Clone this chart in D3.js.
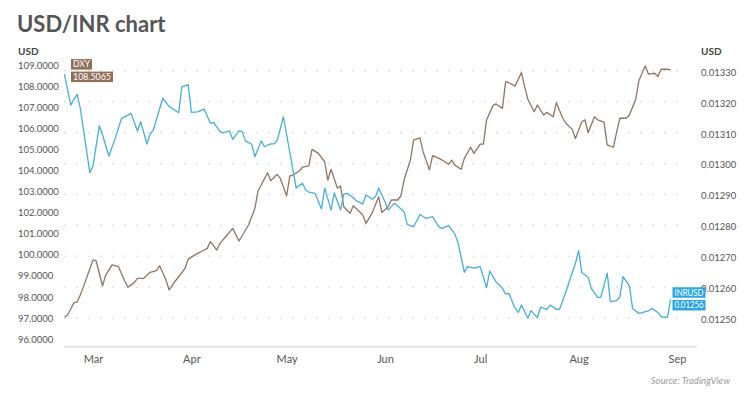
<!DOCTYPE html>
<html>
<head>
<meta charset="utf-8">
<script src="https://cdn.jsdelivr.net/npm/d3@7"></script>
<style>
  body { margin: 0; background: #fff; }
  text { font-family: Lato, "Open Sans", sans-serif; }
</style>
</head>
<body>
<div id="chart"></div>
<script>
// DXY (left axis) and INRUSD (right axis)
const dxyDates = ["2022-02-20","2022-02-21","2022-02-23","2022-02-24","2022-02-25","2022-02-26","2022-03-01","2022-03-02","2022-03-04","2022-03-05",
  "2022-03-07","2022-03-09","2022-03-11","2022-03-12","2022-03-14","2022-03-15","2022-03-17","2022-03-18","2022-03-19","2022-03-21",
  "2022-03-22","2022-03-24","2022-03-25","2022-03-27","2022-03-28","2022-03-30","2022-03-31","2022-04-02","2022-04-03","2022-04-04",
  "2022-04-06","2022-04-07","2022-04-09","2022-04-10","2022-04-12","2022-04-14","2022-04-16","2022-04-17","2022-04-19","2022-04-21",
  "2022-04-22","2022-04-25","2022-04-26","2022-04-28","2022-04-29","2022-05-01","2022-05-02","2022-05-03","2022-05-05","2022-05-06",
  "2022-05-08","2022-05-09","2022-05-11","2022-05-13","2022-05-14","2022-05-15","2022-05-17","2022-05-18","2022-05-19","2022-05-21",
  "2022-05-22","2022-05-24","2022-05-25","2022-05-26","2022-05-28","2022-05-30","2022-05-31","2022-06-02","2022-06-03","2022-06-05",
  "2022-06-06","2022-06-07","2022-06-09","2022-06-10","2022-06-12","2022-06-13","2022-06-15","2022-06-16","2022-06-18","2022-06-19",
  "2022-06-21","2022-06-22","2022-06-23","2022-06-25","2022-06-26","2022-06-28","2022-06-29","2022-07-01","2022-07-02","2022-07-03",
  "2022-07-05","2022-07-06","2022-07-08","2022-07-09","2022-07-10","2022-07-12","2022-07-14","2022-07-15","2022-07-16","2022-07-18",
  "2022-07-19","2022-07-21","2022-07-22","2022-07-24","2022-07-25","2022-07-27","2022-07-28","2022-07-30","2022-07-31","2022-08-02",
  "2022-08-03","2022-08-04","2022-08-06","2022-08-07","2022-08-09","2022-08-10","2022-08-12","2022-08-13","2022-08-14","2022-08-16",
  "2022-08-17","2022-08-19","2022-08-20","2022-08-22","2022-08-23","2022-08-25","2022-08-26","2022-08-27","2022-08-29","2022-08-30"]
const dxyValues = [96.96,97.07,97.65,97.70,98.02,98.42,99.69,99.64,98.46,98.97,
  99.45,99.37,98.69,98.39,98.61,98.81,98.81,98.97,99.10,99.18,
  99.41,98.73,98.26,98.70,98.89,99.29,99.73,99.92,100.00,100.08,
  100.24,100.56,100.16,100.48,100.83,101.19,100.59,100.84,101.35,102.14,
  102.97,103.84,103.46,103.76,103.57,102.73,103.68,103.73,103.92,104.10,
  104.16,104.95,104.76,104.36,103.49,104.00,103.10,103.21,102.22,101.91,
  102.27,101.98,101.83,101.43,101.94,102.70,101.95,102.22,102.54,102.54,
  102.73,103.49,104.44,105.39,105.50,104.84,103.97,104.65,104.52,104.44,
  104.24,104.44,104.20,104.00,104.52,105.05,104.76,105.20,105.20,106.35,
  107.03,107.11,106.90,108.17,108.12,107.96,108.60,107.93,107.33,106.74,
  107.06,106.58,106.71,106.50,107.17,106.43,106.19,105.90,105.47,106.26,
  106.35,105.74,106.50,106.35,106.25,105.16,105.05,105.79,106.43,106.43,
  106.58,107.33,108.22,108.91,108.53,108.57,108.41,108.76,108.76,108.72]

const inrDates = ["2022-02-20","2022-02-22","2022-02-24","2022-02-25","2022-02-28","2022-03-01","2022-03-03","2022-03-04","2022-03-06","2022-03-08",
  "2022-03-10","2022-03-13","2022-03-15","2022-03-16","2022-03-18","2022-03-19","2022-03-20","2022-03-23","2022-03-25","2022-03-28",
  "2022-03-29","2022-03-31","2022-04-01","2022-04-03","2022-04-05","2022-04-07","2022-04-08","2022-04-10","2022-04-11","2022-04-13",
  "2022-04-14","2022-04-16","2022-04-17","2022-04-18","2022-04-20","2022-04-21","2022-04-23","2022-04-24","2022-04-26","2022-04-27",
  "2022-04-28","2022-04-30","2022-05-04","2022-05-06","2022-05-07","2022-05-08","2022-05-10","2022-05-12","2022-05-13","2022-05-15",
  "2022-05-16","2022-05-18","2022-05-19","2022-05-20","2022-05-22","2022-05-23","2022-05-25","2022-05-26","2022-05-28","2022-05-29",
  "2022-05-30","2022-06-01","2022-06-02","2022-06-04","2022-06-05","2022-06-07","2022-06-08","2022-06-10","2022-06-11","2022-06-12",
  "2022-06-14","2022-06-16","2022-06-18","2022-06-19","2022-06-21","2022-06-23","2022-06-24","2022-06-26","2022-06-27","2022-06-29",
  "2022-07-01","2022-07-03","2022-07-04","2022-07-06","2022-07-08","2022-07-09","2022-07-10","2022-07-12","2022-07-13","2022-07-14",
  "2022-07-16","2022-07-17","2022-07-19","2022-07-20","2022-07-22","2022-07-23","2022-07-25","2022-07-26","2022-07-28","2022-07-30",
  "2022-07-31","2022-08-01","2022-08-02","2022-08-04","2022-08-05","2022-08-07","2022-08-08","2022-08-10","2022-08-11","2022-08-13",
  "2022-08-14","2022-08-15","2022-08-17","2022-08-18","2022-08-20","2022-08-21","2022-08-23","2022-08-24","2022-08-26","2022-08-27",
  "2022-08-29","2022-08-30"]
const inrValues = [0.013289,0.013189,0.013224,0.013178,0.012970,0.012992,0.013122,0.013092,0.013024,0.013081,
  0.013146,0.013162,0.013105,0.013135,0.013063,0.013095,0.013108,0.013211,0.013184,0.013164,
  0.013248,0.013255,0.013165,0.013167,0.013176,0.013130,0.013133,0.013103,0.013099,0.013105,
  0.013078,0.013105,0.013103,0.013073,0.013062,0.013022,0.013073,0.013054,0.013063,0.013063,
  0.013073,0.013151,0.012921,0.012936,0.012914,0.012907,0.012903,0.012853,0.012920,0.012849,
  0.012905,0.012849,0.012901,0.012903,0.012890,0.012879,0.012869,0.012898,0.012884,0.012892,
  0.012920,0.012876,0.012849,0.012871,0.012862,0.012844,0.012803,0.012795,0.012814,0.012835,
  0.012822,0.012828,0.012795,0.012790,0.012799,0.012772,0.012744,0.012648,0.012666,0.012661,
  0.012666,0.012598,0.012652,0.012617,0.012596,0.012577,0.012580,0.012531,0.012518,0.012542,
  0.012499,0.012524,0.012501,0.012535,0.012528,0.012542,0.012528,0.012528,0.012585,0.012647,
  0.012677,0.012718,0.012647,0.012632,0.012596,0.012567,0.012567,0.012645,0.012553,0.012556,
  0.012569,0.012634,0.012604,0.012531,0.012515,0.012517,0.012523,0.012531,0.012518,0.012504,
  0.012502,0.012560]

const leftTicks = [96,97,98,99,100,101,102,103,104,105,106,107,108,109]
const rightTicks = [0.0125,0.0126,0.0127,0.0128,0.0129,0.0130,0.0131,0.0132,0.0133]
const dxyLabel = ["DXY", "108.5065"]
const inrLabel = ["INRUSD", "0.01256"]

const w = 750
const h = 400
const parse = d3.timeParse("%Y-%m-%d")

const svg = d3.select("#chart")
  .append("svg")
  .attr("width", w)
  .attr("height", h)

const x = d3.scaleTime()
  .domain([parse("2022-03-01"), parse("2022-09-01")])
  .range([93, 677])
const yLeft = d3.scaleLinear().domain([96, 109]).range([337.5, 64.2])
const yRight = d3.scaleLinear().domain([0.0125, 0.0133]).range([318, 70.7])

// title
svg.append("text")
  .attr("x", 17)
  .attr("y", 32)
  .attr("font-size", 22)
  .attr("font-weight", 700)
  .attr("fill", "#555")
  .text("USD/INR chart")

svg.append("text").attr("x", 18).attr("y", 55).attr("font-size", 10)
  .attr("font-weight", 700).attr("fill", "#444").text("USD")
svg.append("text").attr("x", 701).attr("y", 55).attr("font-size", 10)
  .attr("font-weight", 700).attr("fill", "#444").text("USD")

// dotted gridlines on the right axis ticks
svg.append("g")
  .selectAll("line")
  .data(rightTicks)
  .enter()
  .append("line")
  .attr("x1", 64)
  .attr("x2", 688)
  .attr("y1", d => yRight(d))
  .attr("y2", d => yRight(d))
  .attr("stroke", "#d6d6d6")
  .attr("stroke-width", 1)
  .attr("stroke-dasharray", "2,10")

// bottom line
svg.append("line")
  .attr("x1", 64).attr("x2", 697)
  .attr("y1", 346.7).attr("y2", 346.7)
  .attr("stroke", "#e6e6e6")
  .attr("stroke-width", 2)

const leftAxis = d3.axisRight(yLeft)
  .tickValues(leftTicks)
  .tickSize(0)
  .tickPadding(0)
  .tickFormat(d3.format(".4f"))
const rightAxis = d3.axisRight(yRight)
  .tickValues(rightTicks)
  .tickSize(0)
  .tickPadding(0)
  .tickFormat(d3.format(".5f"))
const xAxis = d3.axisBottom(x)
  .ticks(d3.timeMonth.every(1))
  .tickSize(0)
  .tickPadding(8.5)
  .tickFormat(d3.timeFormat("%b"))

function styleAxis(g, size) {
  g.select(".domain").remove()
  g.selectAll("text")
    .attr("fill", "#555")
    .attr("font-size", size)
    .attr("font-family", "Lato, sans-serif")
}

svg.append("g")
  .attr("transform", "translate(18,1.5)")
  .call(leftAxis)
  .call(g => styleAxis(g, 9.5))
svg.append("g")
  .attr("transform", "translate(701,1.5)")
  .call(rightAxis)
  .call(g => styleAxis(g, 9.5))
svg.append("g")
  .attr("transform", "translate(0,346.7)")
  .call(xAxis)
  .call(g => styleAxis(g, 11))

// lines
const dxyData = dxyDates.map((d, i) => [parse(d), dxyValues[i]])
const inrData = inrDates.map((d, i) => [parse(d), inrValues[i]])

svg.append("path")
  .datum(dxyData)
  .attr("fill", "none")
  .attr("stroke", "#8f7562")
  .attr("stroke-width", 1.3)
  .attr("stroke-linejoin", "round")
  .attr("d", d3.line().x(d => x(d[0])).y(d => yLeft(d[1])))

svg.append("path")
  .datum(inrData)
  .attr("fill", "none")
  .attr("stroke", "#45b0da")
  .attr("stroke-width", 1.3)
  .attr("stroke-linejoin", "round")
  .attr("d", d3.line().x(d => x(d[0])).y(d => yRight(d[1])))

// last value tags
function tag(x0, yTop, widths, texts, color) {
  texts.forEach((t, i) => {
    const top = yTop[i]
    svg.append("rect")
      .attr("x", x0).attr("y", top)
      .attr("width", widths[i]).attr("height", 10.5)
      .attr("fill", color)
    svg.append("text")
      .attr("x", x0 + 2).attr("y", top + 8.4)
      .attr("font-size", 9)
      .attr("fill", "#fff")
      .attr("textLength", widths[i] - 4)
      .attr("lengthAdjust", "spacingAndGlyphs")
      .text(t)
  })
}
const yD = yLeft(dxyValues[dxyValues.length - 1])
tag(71, [yD - 11, yD + 1.5], [21, 42], dxyLabel, "#91705a")
const yI = yRight(inrValues[inrValues.length - 1])
tag(672.5, [yI - 12.2, yI + 0.5], [33, 33], inrLabel, "#2ba6e0")

svg.append("text")
  .attr("x", 730)
  .attr("y", 384)
  .attr("text-anchor", "end")
  .attr("font-size", 9.5)
  .attr("font-style", "italic")
  .attr("fill", "#9a9a9a")
  .text("Source: TradingView")
</script>
</body>
</html>
